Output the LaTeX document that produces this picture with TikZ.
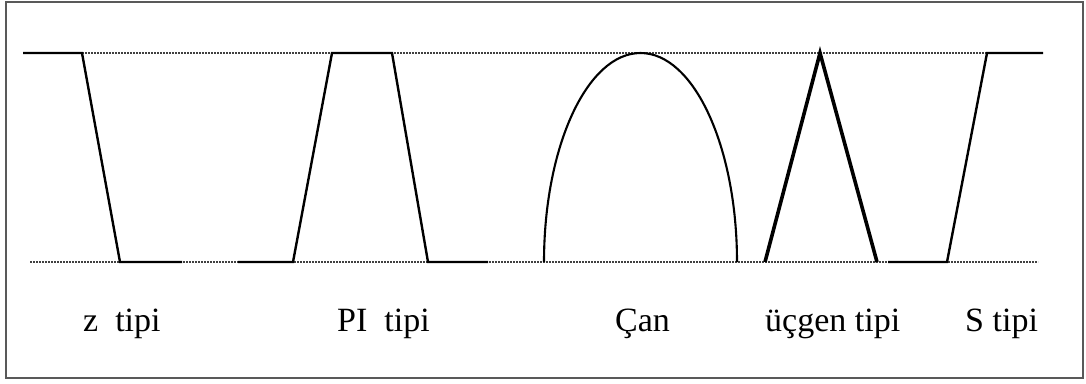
\documentclass[tikz,border=0pt]{standalone}
\usepackage{fontspec}
\setmainfont{Liberation Serif}
\begin{document}
\begin{tikzpicture}[x=1pt,y=-1pt,
  solidline/.style={line width=2.4pt,black,line join=miter},
  thickline/.style={line width=3.6pt,black},
  dotline/.style={line width=1.7pt,black!75,dash pattern=on 1.6pt off 1.4pt},
  lbl/.style={anchor=base west,inner sep=0pt,font=\fontsize{34}{40}\selectfont}]
\useasboundingbox (0,0) rectangle (1086,383);
\draw[line width=2.2pt,black!65] (6,2) rectangle (1083,378);
% guide lines
\draw[dotline] (82,53) -- (987,53);
\draw[dotline] (30,262) -- (1038,262);
% z tipi
\draw[solidline] (23,53) -- (82,53) -- (120,262) -- (182,262);
% PI tipi
\draw[solidline] (238,262) -- (293,262) -- (332,53) -- (392,53) -- (428,262) -- (488,262);
% Can (bell)
\coordinate (cl) at (544,262);
\coordinate (ct) at (640.5,53);
\coordinate (cr) at (737,262);
\draw[line width=2.1pt] (cl) .. controls (544,146.6) and (587.2,53) .. (ct)
  .. controls (693.8,53) and (737,146.6) .. (cr);
% ucgen
\draw[thickline] (765,262) -- (820,53) -- (877,262);
% S tipi
\draw[solidline] (888,262) -- (947,262) -- (987,53) -- (1043,53);
% labels
\node[lbl] (l1) at (83,331) {z\ \ tipi};
\node[lbl] (l2) at (337,331) {PI\ \ tipi};
\node[lbl] (l3) at (615,331) {Çan};
\node[lbl] (l4) at (765,331) {üçgen tipi};
\node[lbl] (l5) at (965,331) {S tipi};
\end{tikzpicture}
\end{document}
